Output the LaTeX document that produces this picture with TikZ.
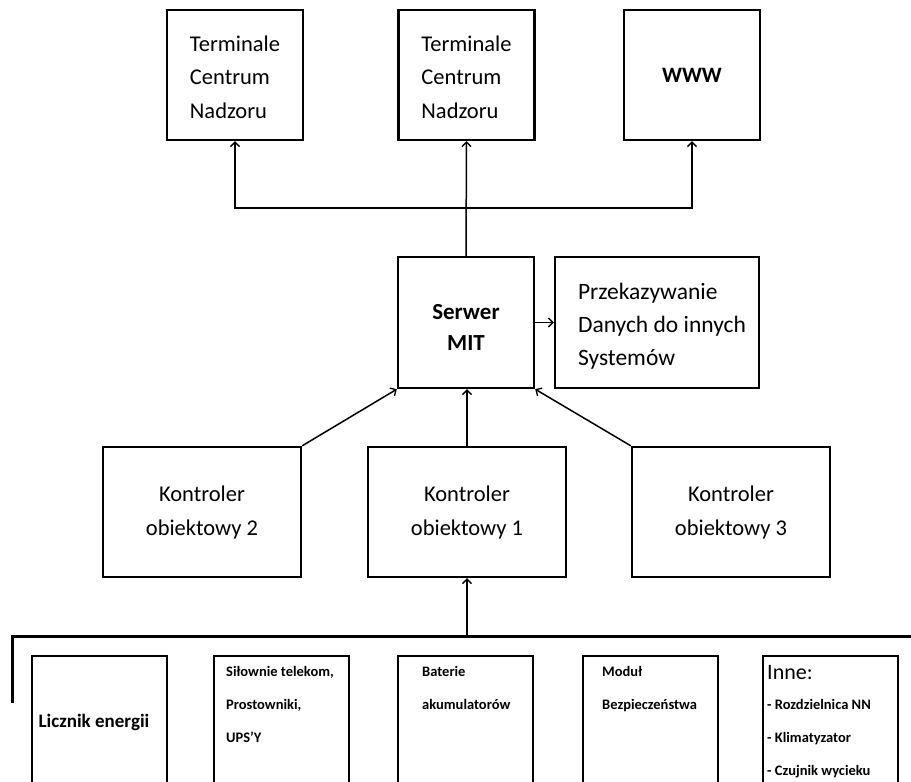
\documentclass[tikz,border=0pt]{standalone}
\usepackage{fontspec}
\setmainfont{Carlito}
\usetikzlibrary{arrows.meta}
\begin{document}
\begin{tikzpicture}[x=1pt,y=-1pt,
  box/.style={draw, line width=2.4pt, rectangle, inner sep=0pt, align=left},
  topbox/.style={box, minimum width=136pt, minimum height=130pt},
  toptext/.style={inner sep=0pt, align=left, font=\fontsize{22.5}{33.5}\selectfont},
  ctrl/.style={box, minimum width=198pt, minimum height=130pt, align=center, font=\fontsize{22.5}{34}\selectfont},
  lowbox/.style={box, minimum width=135pt, minimum height=144pt},
  small/.style={inner sep=0pt, anchor=north west, align=left, font=\bfseries\fontsize{14.5}{33}\selectfont},
  conn/.style={line width=1.5pt, -{Straight Barb[length=4.5pt,width=9pt,line width=1.3pt]}},
  bus/.style={line width=3pt}
]
\clip (0,0) rectangle (911,782);
\fill[white] (0,0) rectangle (911,782);

% top row
\node[topbox] (t1) at (235,75) {};
\node[toptext] (t1x) at (235,77) {Terminale\\Centrum\\Nadzoru};
\node[topbox] (t2) at (466.5,75) {};
\node[toptext] (t2x) at (466.5,77) {Terminale\\Centrum\\Nadzoru};
\node[topbox, font=\bfseries\fontsize{22}{33.5}\selectfont] (t3) at (692,75) {WWW};

% server row
\node[box, minimum width=136pt, minimum height=131pt] (srv) at (466,322.5) {};
\node[inner sep=0pt, align=center, font=\bfseries\fontsize{23}{31}\selectfont] (srvx) at (466,327) {Serwer\\MIT};
\node[box, minimum width=204pt, minimum height=131pt] (prz) at (657,322.5) {};
\node[inner sep=0pt, align=left, font=\fontsize{23.5}{33}\selectfont] (przx) at (662,326) {Przekazywanie\\Danych do innych\\Systemów};

% controllers
\node[ctrl] (k2) at (202,512) {Kontroler\\obiektowy 2};
\node[ctrl] (k1) at (467,512) {Kontroler\\obiektowy 1};
\node[ctrl] (k3) at (731,512) {Kontroler\\obiektowy 3};

% bottom boxes
\node[lowbox] (b1) at (99.5,728) {};
\node[lowbox] (b2) at (281.5,728) {};
\node[lowbox] (b3) at (465.5,728) {};
\node[lowbox] (b4) at (650.5,728) {};
\node[lowbox] (b5) at (830.5,728) {};

\node[inner sep=0pt, font=\bfseries\fontsize{19}{22}\selectfont] (l1) at (94,722) {Licznik energii};
\node[small] (l2) at (226,666) {Siłownie telekom,\\Prostowniki,\\UPS'Y};
\node[small] (l3) at (422,666) {Baterie\\akumulatorów};
\node[small] (l4) at (602,666) {Moduł\\Bezpieczeństwa};
\node[inner sep=0pt, anchor=base west, font=\fontsize{22}{26}\selectfont] (l5a) at (767,679) {Inne:};
\node[small] (l5b) at (767,699) {- Rozdzielnica NN\\- Klimatyzator\\- Czujnik wycieku};

% connectors top
\coordinate (hub) at (466.5,208);
\draw[conn] (srv.north) -- (t2.south);
\draw[conn] (hub) -| (t1.south);
\draw[conn] (hub) -| (t3.south);
\draw[conn] (srv.east) -- (prz.west);

% controllers to server
\draw[conn] (k2.north east) -- (srv.south west);
\draw[conn] (k1.north) -- (srv.south -| k1.north);
\draw[conn] (k3.north west) -- (srv.south east);

% bus
\coordinate (busL) at (12,636);
\coordinate (busR) at (915,636);
\coordinate (busEnd) at (12,703);
\coordinate (busJ) at (467,636);
\draw[bus] (busEnd) -- (busL) -- (busR);
\draw[conn] (busJ) -- (k1.south);
\end{tikzpicture}
\end{document}
